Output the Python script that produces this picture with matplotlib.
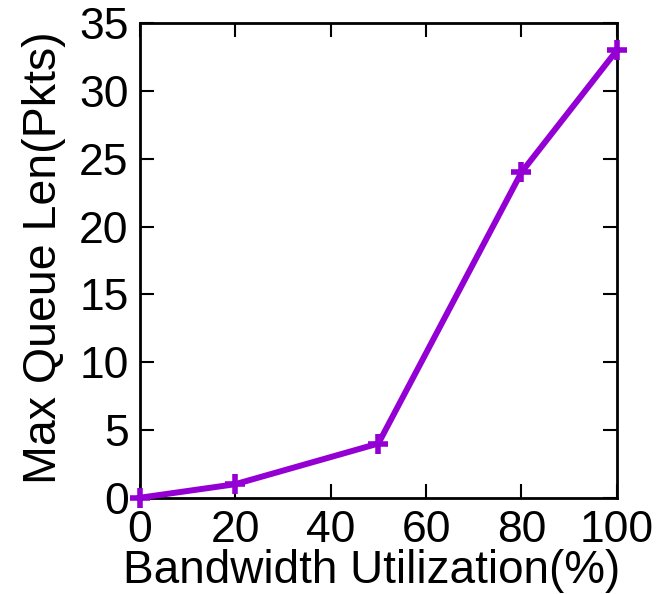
import matplotlib.pyplot as plt

utilization = [0, 20, 50, 80, 100]
max_queue = [0, 1, 4, 24, 33]
x_ticks = [0, 20, 40, 60, 80, 100]
y_ticks = [0, 5, 10, 15, 20, 25, 30, 35]

plt.rcParams["font.family"] = ["Liberation Sans", "DejaVu Sans"]

fig = plt.figure(figsize=(6.72, 5.94), dpi=100)
ax = fig.add_axes([0.208, 0.162, 0.710, 0.799])

ax.plot(utilization, max_queue, color="#9400D3", linewidth=4.3,
        marker="+", markersize=15, markeredgewidth=4, clip_on=False, zorder=3)

ax.set_xlim(0, 100)
ax.set_ylim(0, 35)
ax.set_xticks(x_ticks)
ax.set_yticks(y_ticks)
ax.tick_params(direction="in", length=10, width=1.5, labelsize=32,
               top=True, right=True)
ax.tick_params(axis="x", pad=9)
ax.tick_params(axis="y", pad=8)
for s in ax.spines.values():
    s.set_linewidth(2)

ax.set_xlabel("Bandwidth Utilization(%)", fontsize=33)
ax.xaxis.set_label_coords(0.485, -0.108)
ax.set_ylabel("Max Queue Len(Pkts)", fontsize=33.5)
ax.yaxis.set_label_coords(-0.155, 0.505)

fig.savefig("out.png", dpi=100)
